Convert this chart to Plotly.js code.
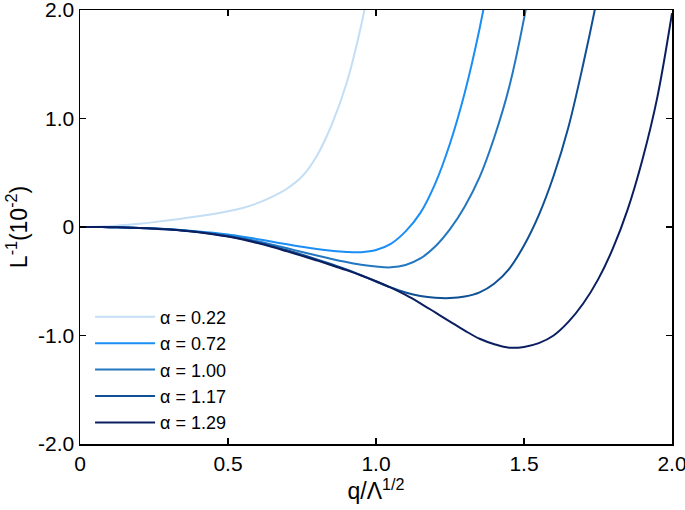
<!DOCTYPE html>
<html>
<head>
<meta charset="utf-8">
<script src="https://cdn.plot.ly/plotly-3.0.1.min.js"></script>
<style>html,body{margin:0;padding:0;background:#fff;}#chart{width:685px;height:510px;}</style>
</head>
<body>
<div id="chart"></div>
<script>
// Legend labels and colours
const seriesNames = ["α = 0.22", "α = 0.72", "α = 1.00", "α = 1.17", "α = 1.29"];
const seriesColors = ["#c3def5", "#1a8ef5", "#2277c0", "#0f4f94", "#0b1f60"];

// α = 0.22
const x022 = [0, 0.05, 0.1, 0.15, 0.2, 0.25, 0.3, 0.35, 0.4, 0.45, 0.5, 0.55, 0.6, 0.65, 0.7, 0.75, 0.8, 0.85, 0.9, 0.95, 1.0];
const y022 = [0, 0.002, 0.008, 0.018, 0.03, 0.045, 0.062, 0.08, 0.1, 0.12, 0.145, 0.175, 0.22, 0.28, 0.355, 0.465, 0.655, 0.94, 1.32, 1.86, 2.55];

// α = 0.72
const x072 = [0, 0.05, 0.1, 0.15, 0.2, 0.25, 0.3, 0.35, 0.4, 0.45, 0.5, 0.55, 0.6, 0.65, 0.7, 0.75, 0.8, 0.85, 0.9, 0.95, 1.0, 1.05, 1.1, 1.15, 1.2, 1.25, 1.3, 1.35, 1.4];
const y072 = [0, -0.0005, -0.002, -0.005, -0.009, -0.014, -0.021, -0.03, -0.041, -0.054, -0.07, -0.09, -0.112, -0.136, -0.16, -0.183, -0.203, -0.219, -0.23, -0.232, -0.212, -0.155, -0.04, 0.13, 0.4, 0.77, 1.24, 1.83, 2.55];

// α = 1.00
const x100 = [0, 0.05, 0.1, 0.15, 0.2, 0.25, 0.3, 0.35, 0.4, 0.45, 0.5, 0.55, 0.6, 0.65, 0.7, 0.75, 0.8, 0.85, 0.9, 0.95, 1.0, 1.05, 1.1, 1.15, 1.2, 1.25, 1.3, 1.35, 1.4, 1.45, 1.5, 1.55];
const y100 = [0, -0.0005, -0.002, -0.005, -0.009, -0.014, -0.021, -0.032, -0.045, -0.061, -0.08, -0.104, -0.132, -0.163, -0.196, -0.23, -0.263, -0.294, -0.323, -0.348, -0.365, -0.372, -0.35, -0.29, -0.18, -0.02, 0.19, 0.46, 0.83, 1.29, 1.92, 2.7];

// α = 1.17
const x117 = [0, 0.05, 0.1, 0.15, 0.2, 0.25, 0.3, 0.35, 0.4, 0.45, 0.5, 0.55, 0.6, 0.65, 0.7, 0.75, 0.8, 0.85, 0.9, 0.95, 1.0, 1.05, 1.1, 1.15, 1.2, 1.25, 1.3, 1.35, 1.4, 1.45, 1.5, 1.55, 1.6, 1.65, 1.7, 1.75, 1.8];
const y117 = [0, -0.0005, -0.002, -0.005, -0.009, -0.014, -0.021, -0.033, -0.047, -0.064, -0.085, -0.111, -0.142, -0.177, -0.215, -0.255, -0.298, -0.343, -0.39, -0.445, -0.502, -0.557, -0.603, -0.635, -0.652, -0.655, -0.64, -0.602, -0.52, -0.385, -0.17, 0.11, 0.47, 0.92, 1.5, 2.15, 2.9];

// α = 1.29
const x129 = [0, 0.05, 0.1, 0.15, 0.2, 0.25, 0.3, 0.35, 0.4, 0.45, 0.5, 0.55, 0.6, 0.65, 0.7, 0.75, 0.8, 0.85, 0.9, 0.95, 1.0, 1.05, 1.1, 1.15, 1.2, 1.25, 1.3, 1.35, 1.4, 1.45, 1.5, 1.55, 1.6, 1.65, 1.7, 1.75, 1.8, 1.85, 1.9, 1.95, 2.0];
const y129 = [0, -0.0005, -0.002, -0.005, -0.009, -0.015, -0.023, -0.034, -0.048, -0.066, -0.088, -0.115, -0.148, -0.185, -0.225, -0.266, -0.308, -0.352, -0.398, -0.447, -0.5, -0.559, -0.626, -0.703, -0.787, -0.872, -0.955, -1.03, -1.08, -1.112, -1.105, -1.07, -1.0, -0.875, -0.705, -0.485, -0.2, 0.16, 0.62, 1.19, 1.97];

// Tick labels
const xTickVals = [0, 0.5, 1.0, 1.5, 2.0];
const xTickText = ["0", "0.5", "1.0", "1.5", "2.0"];
const yTickVals = [2.0, 1.0, 0, -1.0, -2.0];
const yTickText = ["2.0", "1.0", "0", "-1.0", "-2.0"];

const xs = [x022, x072, x100, x117, x129];
const ys = [y022, y072, y100, y117, y129];

const traces = xs.map((x, i) => ({
  x: x, y: ys[i], type: "scatter", mode: "lines",
  name: seriesNames[i], legendgroup: "g" + i,
  line: {color: seriesColors[i], width: 2, shape: "spline", smoothing: 1},
  hoverinfo: "skip"
}));

const font = "Liberation Sans, Arial, Helvetica, sans-serif";
const layout = {
  width: 685, height: 510,
  margin: {l: 80, r: 13, t: 10, b: 66},
  paper_bgcolor: "#fff", plot_bgcolor: "#fff",
  font: {family: font, color: "#000", size: 18},
  showlegend: true,
  legend: {
    x: 0.017, y: 0.335, xanchor: "left", yanchor: "top",
    bgcolor: "rgba(0,0,0,0)", borderwidth: 0,
    font: {family: font, size: 18, color: "#000"},
    traceorder: "grouped", tracegroupgap: 0, itemwidth: 60
  },
  xaxis: {
    range: [0, 2], tickvals: xTickVals, ticktext: xTickText,
    ticks: "inside", ticklen: 6, tickwidth: 1.2, tickcolor: "#000",
    showline: true, linecolor: "#000", linewidth: 1.5, mirror: "allticks",
    showgrid: false, zeroline: false, ticklabeloverflow: "allow",
    tickfont: {family: font, size: 21},
    title: {text: "q/Λ<sup>1/2</sup>", font: {family: font, size: 23}, standoff: 6}
  },
  yaxis: {
    range: [-2, 2], tickvals: yTickVals, ticktext: yTickText,
    ticks: "inside", ticklen: 6, tickwidth: 1.2, tickcolor: "#000",
    showline: true, linecolor: "#000", linewidth: 1.5, mirror: "allticks",
    showgrid: false, zeroline: false, ticklabeloverflow: "allow",
    tickfont: {family: font, size: 21},
    title: {text: "L<sup>-1</sup>(10<sup>-2</sup>)", font: {family: font, size: 23}, standoff: 4}
  }
};

Plotly.newPlot("chart", traces, layout, {displayModeBar: false, staticPlot: true});
</script>
</body>
</html>
